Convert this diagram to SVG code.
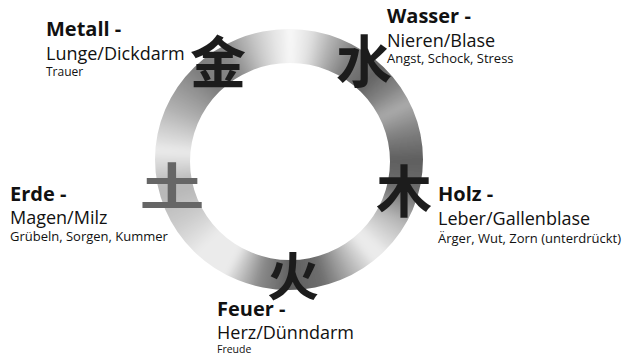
<svg xmlns="http://www.w3.org/2000/svg" xmlns:xlink="http://www.w3.org/1999/xlink" width="628" height="355" viewBox="0 0 628 355">
<style>
.t{font-family:"Open Sans","Noto Sans","Liberation Sans",sans-serif;fill:#111}
.h{font-size:20px;font-weight:700}
.o{font-size:18px}
.s{font-size:13px}
.c{font-family:"Noto Sans CJK SC","Noto Sans CJK JP",sans-serif;font-weight:700;font-size:56px;fill:#1c1c1c;text-anchor:middle}
</style>
<defs>
<path id="w" d="M289.5,160.5 L281.6,10.5 L297.4,10.5 Z"/>
<clipPath id="rc">
<path clip-rule="evenodd" d="M155,159.5 a134,130.5 0 1,0 268,0 a134,130.5 0 1,0 -268,0 Z M190,161.5 a100,98.5 0 1,0 200,0 a100,98.5 0 1,0 -200,0 Z"/>
</clipPath>
<filter id="bl" x="-10%" y="-10%" width="120%" height="120%">
<feGaussianBlur stdDeviation="4"/>
</filter>
</defs>
<rect width="628" height="355" fill="#fff"/>
<g id="ring" clip-path="url(#rc)">
<g filter="url(#bl)">
<use xlink:href="#w" transform="rotate(0 289.5 160.5)" fill="#fafafa"/>
<use xlink:href="#w" transform="rotate(5 289.5 160.5)" fill="#eeeeee"/>
<use xlink:href="#w" transform="rotate(10 289.5 160.5)" fill="#e1e1e1"/>
<use xlink:href="#w" transform="rotate(15 289.5 160.5)" fill="#c8c8c8"/>
<use xlink:href="#w" transform="rotate(20 289.5 160.5)" fill="#afafaf"/>
<use xlink:href="#w" transform="rotate(25 289.5 160.5)" fill="#999999"/>
<use xlink:href="#w" transform="rotate(30 289.5 160.5)" fill="#828282"/>
<use xlink:href="#w" transform="rotate(35 289.5 160.5)" fill="#787878"/>
<use xlink:href="#w" transform="rotate(40 289.5 160.5)" fill="#6e6e6e"/>
<use xlink:href="#w" transform="rotate(45 289.5 160.5)" fill="#646464"/>
<use xlink:href="#w" transform="rotate(50 289.5 160.5)" fill="#737373"/>
<use xlink:href="#w" transform="rotate(55 289.5 160.5)" fill="#828282"/>
<use xlink:href="#w" transform="rotate(60 289.5 160.5)" fill="#969696"/>
<use xlink:href="#w" transform="rotate(65 289.5 160.5)" fill="#aaaaaa"/>
<use xlink:href="#w" transform="rotate(70 289.5 160.5)" fill="#999999"/>
<use xlink:href="#w" transform="rotate(75 289.5 160.5)" fill="#878787"/>
<use xlink:href="#w" transform="rotate(80 289.5 160.5)" fill="#787878"/>
<use xlink:href="#w" transform="rotate(85 289.5 160.5)" fill="#6c6c6c"/>
<use xlink:href="#w" transform="rotate(90 289.5 160.5)" fill="#5f5f5f"/>
<use xlink:href="#w" transform="rotate(95 289.5 160.5)" fill="#646464"/>
<use xlink:href="#w" transform="rotate(100 289.5 160.5)" fill="#696969"/>
<use xlink:href="#w" transform="rotate(105 289.5 160.5)" fill="#6e6e6e"/>
<use xlink:href="#w" transform="rotate(110 289.5 160.5)" fill="#878787"/>
<use xlink:href="#w" transform="rotate(115 289.5 160.5)" fill="#a0a0a0"/>
<use xlink:href="#w" transform="rotate(120 289.5 160.5)" fill="#b9b9b9"/>
<use xlink:href="#w" transform="rotate(125 289.5 160.5)" fill="#cacaca"/>
<use xlink:href="#w" transform="rotate(130 289.5 160.5)" fill="#dadada"/>
<use xlink:href="#w" transform="rotate(135 289.5 160.5)" fill="#ebebeb"/>
<use xlink:href="#w" transform="rotate(140 289.5 160.5)" fill="#ebebeb"/>
<use xlink:href="#w" transform="rotate(145 289.5 160.5)" fill="#d2d2d2"/>
<use xlink:href="#w" transform="rotate(150 289.5 160.5)" fill="#b9b9b9"/>
<use xlink:href="#w" transform="rotate(155 289.5 160.5)" fill="#a0a0a0"/>
<use xlink:href="#w" transform="rotate(160 289.5 160.5)" fill="#878787"/>
<use xlink:href="#w" transform="rotate(165 289.5 160.5)" fill="#6e6e6e"/>
<use xlink:href="#w" transform="rotate(170 289.5 160.5)" fill="#696969"/>
<use xlink:href="#w" transform="rotate(175 289.5 160.5)" fill="#646464"/>
<use xlink:href="#w" transform="rotate(180 289.5 160.5)" fill="#5f5f5f"/>
<use xlink:href="#w" transform="rotate(185 289.5 160.5)" fill="#6e6e6e"/>
<use xlink:href="#w" transform="rotate(190 289.5 160.5)" fill="#7d7d7d"/>
<use xlink:href="#w" transform="rotate(195 289.5 160.5)" fill="#8c8c8c"/>
<use xlink:href="#w" transform="rotate(200 289.5 160.5)" fill="#acacac"/>
<use xlink:href="#w" transform="rotate(205 289.5 160.5)" fill="#cbcbcb"/>
<use xlink:href="#w" transform="rotate(210 289.5 160.5)" fill="#ebebeb"/>
<use xlink:href="#w" transform="rotate(215 289.5 160.5)" fill="#ebebeb"/>
<use xlink:href="#w" transform="rotate(220 289.5 160.5)" fill="#ebebeb"/>
<use xlink:href="#w" transform="rotate(225 289.5 160.5)" fill="#ebebeb"/>
<use xlink:href="#w" transform="rotate(230 289.5 160.5)" fill="#e1e1e1"/>
<use xlink:href="#w" transform="rotate(235 289.5 160.5)" fill="#d7d7d7"/>
<use xlink:href="#w" transform="rotate(240 289.5 160.5)" fill="#cdcdcd"/>
<use xlink:href="#w" transform="rotate(245 289.5 160.5)" fill="#c6c6c6"/>
<use xlink:href="#w" transform="rotate(250 289.5 160.5)" fill="#bfbfbf"/>
<use xlink:href="#w" transform="rotate(255 289.5 160.5)" fill="#b8b8b8"/>
<use xlink:href="#w" transform="rotate(260 289.5 160.5)" fill="#bababa"/>
<use xlink:href="#w" transform="rotate(265 289.5 160.5)" fill="#cbcbcb"/>
<use xlink:href="#w" transform="rotate(270 289.5 160.5)" fill="#dbdbdb"/>
<use xlink:href="#w" transform="rotate(275 289.5 160.5)" fill="#ebebeb"/>
<use xlink:href="#w" transform="rotate(280 289.5 160.5)" fill="#dcdcdc"/>
<use xlink:href="#w" transform="rotate(285 289.5 160.5)" fill="#cdcdcd"/>
<use xlink:href="#w" transform="rotate(290 289.5 160.5)" fill="#bebebe"/>
<use xlink:href="#w" transform="rotate(295 289.5 160.5)" fill="#afafaf"/>
<use xlink:href="#w" transform="rotate(300 289.5 160.5)" fill="#a3a3a3"/>
<use xlink:href="#w" transform="rotate(305 289.5 160.5)" fill="#969696"/>
<use xlink:href="#w" transform="rotate(310 289.5 160.5)" fill="#8a8a8a"/>
<use xlink:href="#w" transform="rotate(315 289.5 160.5)" fill="#7d7d7d"/>
<use xlink:href="#w" transform="rotate(320 289.5 160.5)" fill="#808080"/>
<use xlink:href="#w" transform="rotate(325 289.5 160.5)" fill="#848484"/>
<use xlink:href="#w" transform="rotate(330 289.5 160.5)" fill="#878787"/>
<use xlink:href="#w" transform="rotate(335 289.5 160.5)" fill="#9d9d9d"/>
<use xlink:href="#w" transform="rotate(340 289.5 160.5)" fill="#b2b2b2"/>
<use xlink:href="#w" transform="rotate(345 289.5 160.5)" fill="#c8c8c8"/>
<use xlink:href="#w" transform="rotate(350 289.5 160.5)" fill="#d9d9d9"/>
<use xlink:href="#w" transform="rotate(355 289.5 160.5)" fill="#e9e9e9"/>
</g>
</g>
<g id="connectors"/>
<g id="metall">
<text class="c" x="218" y="83">金</text>
<text class="t h" x="46" y="36">Metall -</text>
<text class="t o" x="46" y="60">Lunge/Dickdarm</text>
<text class="t s" x="46" y="76" style="font-size:12px">Trauer</text>
</g>
<g id="wasser">
<text class="c" x="364" y="82">水</text>
<text class="t h" x="387" y="22.7">Wasser -</text>
<text class="t o" x="387" y="46.7">Nieren/Blase</text>
<text class="t s" x="387" y="63.3">Angst, Schock, Stress</text>
</g>
<g id="holz">
<text class="c" x="404" y="212">木</text>
<text class="t h" x="438" y="200.7">Holz -</text>
<text class="t o" x="438" y="225">Leber/Gallenblase</text>
<text class="t s" x="438" y="242.7">Ärger, Wut, Zorn (unterdrückt)</text>
</g>
<g id="feuer">
<text class="c" x="293" y="295.5" style="font-size:52px">火</text>
<text class="t h" x="217" y="316">Feuer -</text>
<text class="t o" x="217" y="338.5">Herz/Dünndarm</text>
<text class="t s" x="217" y="352.5" style="font-size:10.5px">Freude</text>
</g>
<g id="erde">
<text class="c" transform="translate(172,205) scale(1.3,1)" style="font-size:50px;fill:#666">土</text>
<text class="t h" x="10" y="200.7">Erde -</text>
<text class="t o" x="10" y="224.3">Magen/Milz</text>
<text class="t s" x="10" y="240.7">Grübeln, Sorgen, Kummer</text>
</g>
</svg>
